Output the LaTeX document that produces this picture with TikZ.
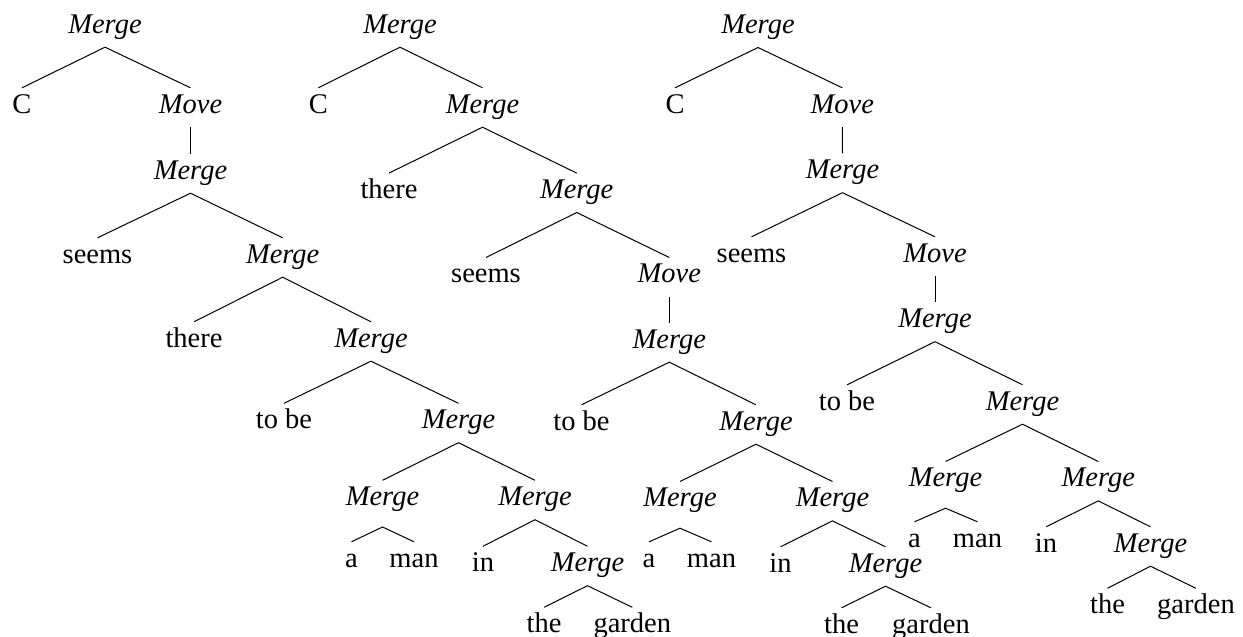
\documentclass[tikz,border=0pt]{standalone}
\usepackage{fontspec}
\setmainfont{Liberation Serif}
\begin{document}
\begin{tikzpicture}[x=1pt,y=-1pt,
  w/.style={font=\fontsize{28.5}{34}\selectfont, inner xsep=0pt, inner ysep=6pt,
            text height=19pt, text depth=8pt, anchor=base},
  op/.style={w, font=\fontsize{28.5}{34}\selectfont\itshape},
  ed/.style={line width=1pt}]
\useasboundingbox (0,0) rectangle (1243,637);

% ---------------- Tree 1 ----------------
\node[op] (r1)   at (105,33)    {Merge};
\node[w]  (c1)   at (22,113)    {C};
\node[op] (mv1)  at (190.5,113) {Move};
\node[op] (m1a)  at (190.5,179) {Merge};
\node[w]  (s1)   at (97.5,263)  {seems};
\node[op] (m1b)  at (282.7,263) {Merge};
\node[w]  (th1)  at (194,347)   {there};
\node[op] (m1c)  at (371,347)   {Merge};
\node[w]  (tb1)  at (284,428.5) {to be};
\node[op] (m1d)  at (458.5,428.5) {Merge};
\node[op] (m1e)  at (382.5,505.5) {Merge};
\node[op] (m1f)  at (535,505.5) {Merge};
\node[w]  (a1)   at (351.5,567) {a};
\node[w]  (man1) at (414,567)   {man};
\node[w]  (in1)  at (483,571.5) {in};
\node[op] (m1g)  at (587.5,571.5) {Merge};
\node[w]  (the1) at (544,632.5) {the};
\node[w]  (g1)   at (632.3,632.5) {garden};
\coordinate (e1) at ([yshift=-7.3pt]m1e.south);

\draw[ed] (c1.north) -- (r1.south) -- (mv1.north);
\draw[ed] (mv1.south) -- (m1a.north);
\draw[ed] (s1.north) -- (m1a.south) -- (m1b.north);
\draw[ed] (th1.north) -- (m1b.south) -- (m1c.north);
\draw[ed] (tb1.north) -- (m1c.south) -- (m1d.north);
\draw[ed] (m1e.north) -- (m1d.south) -- (m1f.north);
\draw[ed] (a1.north) -- (e1) -- (man1.north);
\draw[ed] (in1.north) -- (m1f.south) -- (m1g.north);
\draw[ed] (the1.north) -- (m1g.south) -- (g1.north);

% ---------------- Tree 2 ----------------
\node[op] (r2)   at (400,33)    {Merge};
\node[w]  (c2)   at (318.3,113) {C};
\node[op] (m2a)  at (482.5,113) {Merge};
\node[w]  (th2)  at (389,198.3) {there};
\node[op] (m2b)  at (576.7,198.3) {Merge};
\node[w]  (s2)   at (486,282.7) {seems};
\node[op] (mv2)  at (669.3,282.7) {Move};
\node[op] (m2c)  at (669.3,348) {Merge};
\node[w]  (tb2)  at (581.5,430) {to be};
\node[op] (m2d)  at (756,430)   {Merge};
\node[op] (m2e)  at (680,506.7) {Merge};
\node[op] (m2f)  at (832.5,506.7) {Merge};
\node[w]  (a2)   at (649,567)   {a};
\node[w]  (man2) at (711.5,567) {man};
\node[w]  (in2)  at (780.5,572) {in};
\node[op] (m2g)  at (885.5,572) {Merge};
\node[w]  (the2) at (841.5,633) {the};
\node[w]  (g2)   at (931,633)   {garden};
\coordinate (e2) at ([yshift=-7.3pt]m2e.south);

\draw[ed] (c2.north) -- (r2.south) -- (m2a.north);
\draw[ed] (th2.north) -- (m2a.south) -- (m2b.north);
\draw[ed] (s2.north) -- (m2b.south) -- (mv2.north);
\draw[ed] (mv2.south) -- (m2c.north);
\draw[ed] (tb2.north) -- (m2c.south) -- (m2d.north);
\draw[ed] (m2e.north) -- (m2d.south) -- (m2f.north);
\draw[ed] (a2.north) -- (e2) -- (man2.north);
\draw[ed] (in2.north) -- (m2f.south) -- (m2g.north);
\draw[ed] (the2.north) -- (m2g.south) -- (g2.north);

% ---------------- Tree 3 ----------------
\node[op] (r3)   at (758,33.3)  {Merge};
\node[w]  (c3)   at (675,113)   {C};
\node[op] (mv3)  at (842.3,113) {Move};
\node[op] (m3a)  at (842.5,178.5) {Merge};
\node[w]  (s3)   at (751.5,262) {seems};
\node[op] (mv3b) at (935,262)   {Move};
\node[op] (m3b)  at (935,327.5) {Merge};
\node[w]  (tb3)  at (847,410)   {to be};
\node[op] (m3c)  at (1022.5,410) {Merge};
\node[op] (m3d)  at (945.5,486.7) {Merge};
\node[op] (m3e)  at (1098.3,486.7) {Merge};
\node[w]  (a3)   at (914.5,547) {a};
\node[w]  (man3) at (977.5,547) {man};
\node[w]  (in3)  at (1046,552)  {in};
\node[op] (m3f)  at (1150.5,552) {Merge};
\node[w]  (the3) at (1107.5,613.5) {the};
\node[w]  (g3)   at (1196,613.5) {garden};
\coordinate (e3) at ([yshift=-7.3pt]m3d.south);

\draw[ed] (c3.north) -- (r3.south) -- (mv3.north);
\draw[ed] (mv3.south) -- (m3a.north);
\draw[ed] (s3.north) -- (m3a.south) -- (mv3b.north);
\draw[ed] (mv3b.south) -- (m3b.north);
\draw[ed] (tb3.north) -- (m3b.south) -- (m3c.north);
\draw[ed] (m3d.north) -- (m3c.south) -- (m3e.north);
\draw[ed] (a3.north) -- (e3) -- (man3.north);
\draw[ed] (in3.north) -- (m3e.south) -- (m3f.north);
\draw[ed] (the3.north) -- (m3f.south) -- (g3.north);
\end{tikzpicture}
\end{document}
